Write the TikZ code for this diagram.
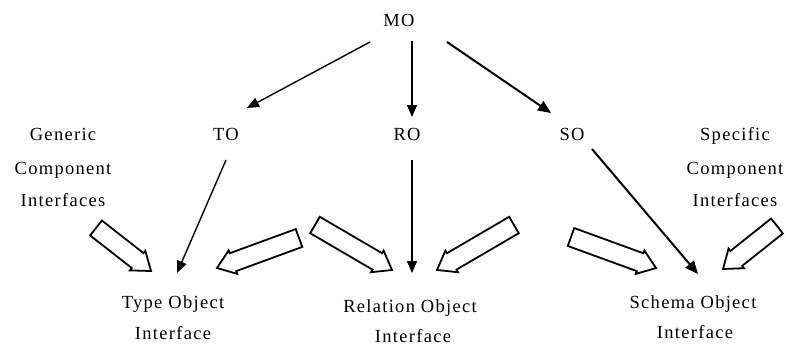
\documentclass[tikz,border=0pt]{standalone}
\usepackage{fontspec}
\setmainfont{Liberation Serif}[LetterSpace=7]
\usetikzlibrary{arrows.meta,calc}
\newcommand\hollowarrow[2]{%
  \coordinate (hb) at ($(#2)!17pt!(#1)$);
  \draw[hollow] ($(#1)!9.5pt!90:(#2)$) -- ($(hb)!9.5pt!90:(#2)$) -- ($(hb)!12.5pt!90:(#2)$) -- (#2)
    -- ($(hb)!12.5pt!-90:(#2)$) -- ($(hb)!9.5pt!-90:(#2)$) -- ($(#1)!9.5pt!-90:(#2)$) -- cycle;}
\begin{document}
\begin{tikzpicture}[x=1pt,y=-1pt,
  lbl/.style={font=\fontsize{18.5}{22}\selectfont, inner sep=0pt, anchor=base},
  thinarrow/.style={line width=1.4pt, -{Triangle[length=12pt,width=10pt]}},
  thickarrow/.style={line width=2pt, -{Triangle[length=13pt,width=11pt]}},
  hollow/.style={draw=black, fill=white, line width=1.8pt, line join=miter}]
\useasboundingbox (0,0) rectangle (786,346);
% labels
\node[lbl] (mo) at (399,26) {MO};
\node[lbl] (to) at (226,140) {TO};
\node[lbl] (ro) at (407,140) {RO};
\node[lbl] (so) at (572,140) {SO};
\node[lbl] (gen1) at (63,140) {Generic};
\node[lbl] (gen2) at (63,174) {Component};
\node[lbl] (gen3) at (63,206) {Interfaces};
\node[lbl] (spec1) at (735,140) {Specific};
\node[lbl] (spec2) at (735,174) {Component};
\node[lbl] (spec3) at (735,206) {Interfaces};
\node[lbl] (type1) at (173,308) {Type Object};
\node[lbl] (type2) at (173,339) {Interface};
\node[lbl] (rel1) at (410,312) {Relation Object};
\node[lbl] (rel2) at (413,342) {Interface};
\node[lbl] (sch1) at (693,308) {Schema Object};
\node[lbl] (sch2) at (695,338) {Interface};
% connector end points
\coordinate (moA) at (370,42);  \coordinate (toIn) at (247,108);
\coordinate (moB) at (412,41);  \coordinate (roIn) at (412,117);
\coordinate (moC) at (447,42);  \coordinate (soIn) at (551,113);
\coordinate (toOut) at (226,160); \coordinate (typeIn) at (177,273);
\coordinate (roOut) at (412,160); \coordinate (relIn) at (412,273);
\coordinate (soOut) at (592,149); \coordinate (schIn) at (698,274);
\draw[thinarrow] (moA) -- (toIn);
\draw[thinarrow] (moB) -- (roIn);
\draw[thickarrow] (moC) -- (soIn);
\draw[thinarrow] (toOut) -- (typeIn);
\draw[thinarrow] (roOut) -- (relIn);
\draw[thickarrow] (soOut) -- (schIn);
% hollow block arrows
\coordinate (h1s) at (96,228);  \coordinate (h1e) at (151,271);
\coordinate (h2s) at (299,238); \coordinate (h2e) at (217,268);
\coordinate (h3s) at (315,225); \coordinate (h3e) at (392,270);
\coordinate (h4s) at (514,225); \coordinate (h4e) at (437,270);
\coordinate (h5s) at (571,237); \coordinate (h5e) at (656,268);
\coordinate (h6s) at (777,226); \coordinate (h6e) at (723,269);
\hollowarrow{h1s}{h1e}
\hollowarrow{h2s}{h2e}
\hollowarrow{h3s}{h3e}
\hollowarrow{h4s}{h4e}
\hollowarrow{h5s}{h5e}
\hollowarrow{h6s}{h6e}
\end{tikzpicture}
\end{document}
